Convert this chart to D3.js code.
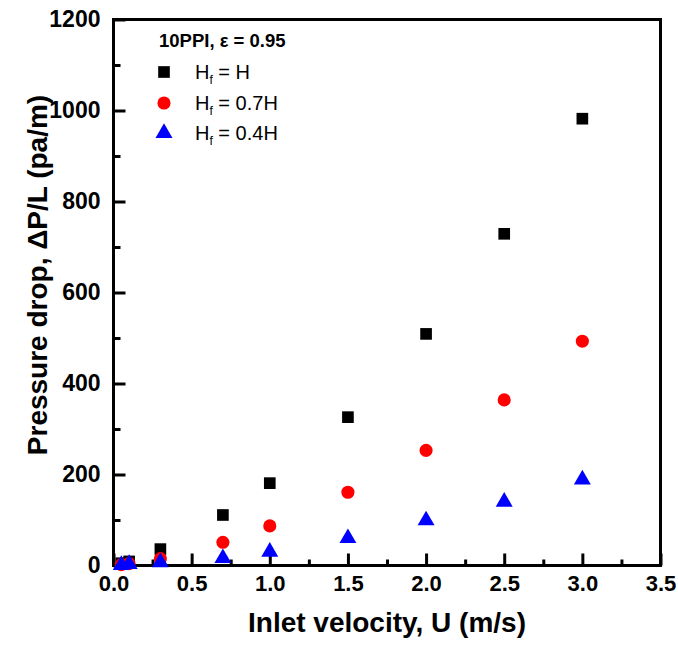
<!DOCTYPE html>
<html>
<head>
<meta charset="utf-8">
<script src="https://cdn.jsdelivr.net/npm/d3@7"></script>
<style>
  body { margin: 0; background: #fff; }
  text { font-family: "Liberation Sans", Arial, sans-serif; }
</style>
</head>
<body>
<script>
// data
const velocity = [0.05, 0.1, 0.3, 0.7, 1.0, 1.5, 2.0, 2.5, 3.0];
const dropFull = [5, 9, 36, 111, 181, 326, 509, 729, 982];
const dropP7 = [2, 4, 15, 51, 87, 161, 253, 364, 493];
const dropP4 = [1, 3, 7, 16, 30, 60, 99, 140, 189];
const xTicks = [0, 0.5, 1.0, 1.5, 2.0, 2.5, 3.0, 3.5];
const yTicks = [0, 200, 400, 600, 800, 1000, 1200];
const seriesNames = [" = H", " = 0.7H", " = 0.4H"];

const width = 678, height = 660;
const margin = {left: 113.5, right: 17.5, top: 19.5, bottom: 94.5};

const svg = d3.select("body").append("svg")
  .attr("width", width)
  .attr("height", height);

const x = d3.scaleLinear().domain([0, 3.5]).range([margin.left, width - margin.right]);
const y = d3.scaleLinear().domain([0, 1200]).range([height - margin.bottom, margin.top]);

// minor ticks first
svg.append("g")
  .attr("transform", "translate(0," + y(0) + ")")
  .call(d3.axisBottom(x).tickValues(d3.range(0.25, 3.5, 0.5)).tickSize(-6).tickFormat(""))
  .call(g => g.select(".domain").remove())
  .call(g => g.selectAll("line").attr("stroke-width", 3));

svg.append("g")
  .attr("transform", "translate(" + x(0) + ",0)")
  .call(d3.axisLeft(y).tickValues(d3.range(100, 1200, 200)).tickSize(-7).tickFormat(""))
  .call(g => g.select(".domain").remove())
  .call(g => g.selectAll("line").attr("stroke-width", 3));

// major ticks + labels
svg.append("g")
  .attr("transform", "translate(0," + y(0) + ")")
  .call(d3.axisBottom(x).tickValues(xTicks).tickSize(-12).tickFormat(d3.format(".1f")))
  .call(g => g.select(".domain").remove())
  .call(g => g.selectAll("line").attr("stroke-width", 3))
  .call(g => g.selectAll("text")
    .attr("y", 10)
    .attr("dy", "0.71em")
    .style("font-size", "22px")
    .style("font-weight", "bold")
    .attr("fill", "#000"));

svg.append("g")
  .attr("transform", "translate(" + x(0) + ",0)")
  .call(d3.axisLeft(y).tickValues(yTicks).tickSize(-12).tickFormat(d3.format("d")))
  .call(g => g.select(".domain").remove())
  .call(g => g.selectAll("line").attr("stroke-width", 3))
  .call(g => g.selectAll("text")
    .attr("x", -13)
    .style("font-size", "23px")
    .style("font-weight", "bold")
    .attr("fill", "#000"));

// frame
svg.append("rect")
  .attr("x", x(0))
  .attr("y", y(1200))
  .attr("width", x(3.5) - x(0))
  .attr("height", y(0) - y(1200))
  .attr("fill", "none")
  .attr("stroke", "#000")
  .attr("stroke-width", 3);

// axis titles
svg.append("text")
  .attr("x", (x(0) + x(3.5)) / 2)
  .attr("y", 632)
  .attr("text-anchor", "middle")
  .style("font-size", "28px")
  .style("font-weight", "bold")
  .text("Inlet velocity, U (m/s)");

svg.append("text")
  .attr("transform", "translate(47,275) rotate(-90)")
  .attr("text-anchor", "middle")
  .style("font-size", "28px")
  .style("font-weight", "bold")
  .text("Pressure drop, ΔP/L (pa/m)");

// points
const sym = {
  square: d3.symbol().type(d3.symbolSquare).size(136),
  circle: d3.symbol().type(d3.symbolCircle).size(135),
  tri: d3.symbol().type(d3.symbolTriangle).size(125)
};

const series = [
  {vals: dropFull, color: "#000000", shape: sym.square},
  {vals: dropP7, color: "#ff0000", shape: sym.circle},
  {vals: dropP4, color: "#0000ff", shape: sym.tri}
];

series.forEach(s => {
  svg.append("g").selectAll("path")
    .data(velocity.map((v, i) => ({u: v, p: s.vals[i]})))
    .enter()
    .append("path")
    .attr("d", s.shape)
    .attr("transform", d => "translate(" + x(d.u) + "," + y(d.p) + ")")
    .attr("fill", s.color);
});

// legend
const legend = svg.append("g");
legend.append("text")
  .attr("x", 159)
  .attr("y", 47)
  .style("font-size", "18.5px")
  .style("font-weight", "bold")
  .text("10PPI, ε = 0.95");

const legendY = [72, 103, 133];
series.forEach((s, i) => {
  legend.append("path")
    .attr("d", s.shape)
    .attr("transform", "translate(164," + legendY[i] + ")")
    .attr("fill", s.color);
  const t = legend.append("text")
    .attr("x", 195)
    .attr("y", legendY[i] + 7)
    .style("font-size", "20px");
  t.append("tspan").text("H");
  t.append("tspan").attr("dy", 5).style("font-size", "12px").text("f");
  t.append("tspan").attr("dy", -5).text(seriesNames[i]);
});
</script>
</body>
</html>
